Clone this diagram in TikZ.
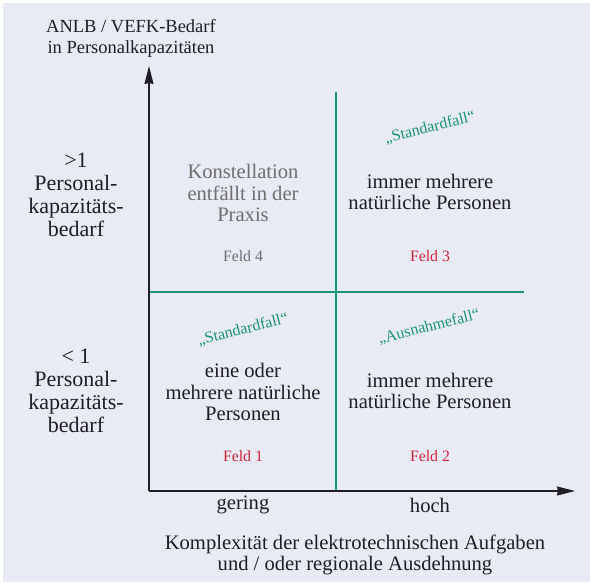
\documentclass[tikz,border=0pt]{standalone}
\usepackage{fontspec}
\setmainfont{Liberation Serif}
\usetikzlibrary{arrows.meta}
\definecolor{bg}{HTML}{E8EBF4}
\definecolor{grn}{HTML}{1A9470}
\definecolor{rd}{HTML}{D0223A}
\definecolor{gy}{HTML}{6E6E6E}
\definecolor{ax}{HTML}{1E1E24}
\begin{document}
\begin{tikzpicture}[x=1pt,y=-1pt,
  txt/.style={align=center,inner sep=0pt,font=\fontsize{20.6}{21.5}\selectfont,text=ax},
  side/.style={align=center,inner sep=0pt,font=\fontsize{22}{23}\selectfont,text=ax},
  feld/.style={inner sep=0pt,font=\fontsize{15.8}{17}\selectfont},
  fall/.style={inner sep=0pt,font=\fontsize{16}{17}\selectfont,text=grn,rotate=14},
  axis/.style={draw=ax,line width=1.4pt,-{Stealth[length=18pt,width=9pt,inset=1pt]}},
  gline/.style={draw=grn,line width=1.8pt}]
\useasboundingbox (0,0) rectangle (590,582);
\fill[white] (0,0) rectangle (590,582);
\fill[bg] (3,3) rectangle (590,582);
\coordinate (O) at (149,491);
\coordinate (Ytip) at (149,66);
\coordinate (Xtip) at (575,491);
\coordinate (Vt) at (336,92);
\coordinate (Vb) at (336,491);
\coordinate (Hl) at (149,292);
\coordinate (Hr) at (524,292);
\draw[gline] (Vt) -- (Vb);
\draw[gline] (Hl) -- (Hr);
\draw[axis] (O) -- (Ytip);
\draw[axis] (O) -- (Xtip);
\node[txt,font=\fontsize{18.5}{21}\selectfont] (yl) at (131,38) {ANLB / VEFK-Bedarf\\in Personalkapazitäten};
\node[side] (hi) at (76,195) {>1\\Personal-\\kapazitäts-\\bedarf};
\node[side] (lo) at (76,391) {< 1\\Personal-\\kapazitäts-\\bedarf};
\node[txt,text=gy] (f4t) at (243,193) {Konstellation\\entfällt in der\\Praxis};
\node[feld,text=gy] (f4) at (243,256) {Feld 4};
\node[txt] (f3t) at (430,192) {immer mehrere\\natürliche Personen};
\node[feld,text=rd] (f3) at (430,256) {Feld 3};
\node[fall] (s3) at (430,128) {„Standardfall“};
\node[fall] (s1) at (243,330) {„Standardfall“};
\node[fall] (s2) at (429,327) {„Ausnahmefall“};
\node[txt] (f1t) at (243,392) {eine oder\\mehrere natürliche\\Personen};
\node[feld,text=rd] (f1) at (243,456) {Feld 1};
\node[txt] (f2t) at (430,391) {immer mehrere\\natürliche Personen};
\node[feld,text=rd] (f2) at (430,456) {Feld 2};
\node[txt] (g) at (243,505) {gering};
\node[txt] (h) at (430,505) {hoch};
\node[txt] (xl) at (355,555) {Komplexität der elektrotechnischen Aufgaben\\und / oder regionale Ausdehnung};
\end{tikzpicture}
\end{document}
